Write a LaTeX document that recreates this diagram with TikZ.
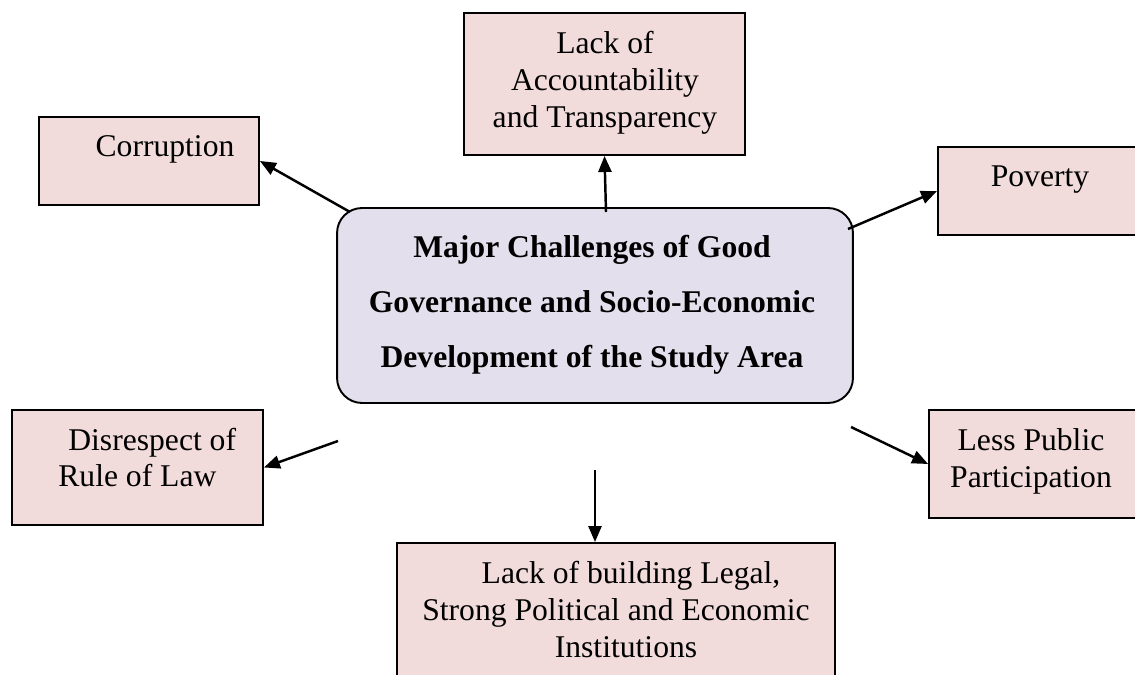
\documentclass[tikz,border=0pt]{standalone}
\usepackage{fontspec}
\setmainfont{Liberation Serif}
\usetikzlibrary{arrows.meta}

\definecolor{boxpink}{RGB}{242,220,219}
\definecolor{corelilac}{RGB}{228,223,236}

\begin{document}
\begin{tikzpicture}[x=0.02cm, y=-0.02cm,
    box/.style={draw, fill=boxpink, line width=1.1pt, inner sep=0pt},
    core/.style={draw, fill=corelilac, line width=1.1pt, inner sep=0pt, rounded corners=0.5cm},
    txt/.style={inner sep=0pt, font=\fontsize{18pt}{21pt}\selectfont},
    arr/.style={line width=1.4pt, -{Triangle[length=0.32cm, width=0.26cm]}}]
      \clip (0, 0) rectangle (1135, 675);

      \node[core, minimum width=10.32cm, minimum height=3.9cm] (main) at (595, 305.5) {};
      \node[txt, align=center, font=\fontsize{18pt}{31.2pt}\selectfont\bfseries] (main-txt) at (592, 305)
        {Major Challenges of Good\\Governance and Socio-Economic\\Development of the Study Area};

      \node[box, minimum width=4.4cm, minimum height=1.76cm] (corr) at (149, 161) {};
      \node[txt, anchor=base] (corr-txt) at (165, 157) {Corruption};

      \node[box, minimum width=5.62cm, minimum height=2.84cm] (acc) at (604.5, 84) {};
      \node[txt, align=center] (acc-txt) at (605, 83) {Lack of\\Accountability\\and Transparency};

      \node[box, minimum width=4.24cm, minimum height=1.76cm] (pov) at (1044, 191) {};
      \node[txt, anchor=base] (pov-txt) at (1040, 187) {Poverty};

      \node[box, minimum width=5.02cm, minimum height=2.3cm] (dis) at (137.5, 467.5) {};
      \node[txt, align=left, anchor=west] (dis-txt) at (58, 457.5) {\hspace*{0.2cm}Disrespect of\\Rule of Law};

      \node[box, minimum width=4.42cm, minimum height=2.16cm] (less) at (1039.5, 464) {};
      \node[txt, align=center] (less-txt) at (1031, 461.5) {Less Public\\Participation};

      \node[box, minimum width=8.76cm, minimum height=3.14cm] (inst) at (616, 621.5) {};
      \node[txt, align=center] (inst-txt) at (616, 609.5)
        {\hspace*{0.6cm}Lack of building Legal,\\Strong Political and Economic\\\hspace*{0.4cm}Institutions};

      \coordinate (from-corr) at (350, 212);
      \coordinate (from-acc) at (606, 212);
      \coordinate (from-pov) at (848, 229);
      \coordinate (from-dis) at (338, 441);
      \coordinate (from-less) at (851, 427);
      \coordinate (from-inst) at (595, 470);

      \draw[arr] (from-corr) -- (corr.east);
      \draw[arr] (from-acc) -- (acc.south);
      \draw[arr] (from-pov) -- (pov.west);
      \draw[arr] (from-dis) -- (dis.east);
      \draw[arr] (from-less) -- (less.west);
      \draw[arr] (from-inst) -- (from-inst |- inst.north);
    \end{tikzpicture}
\end{document}
